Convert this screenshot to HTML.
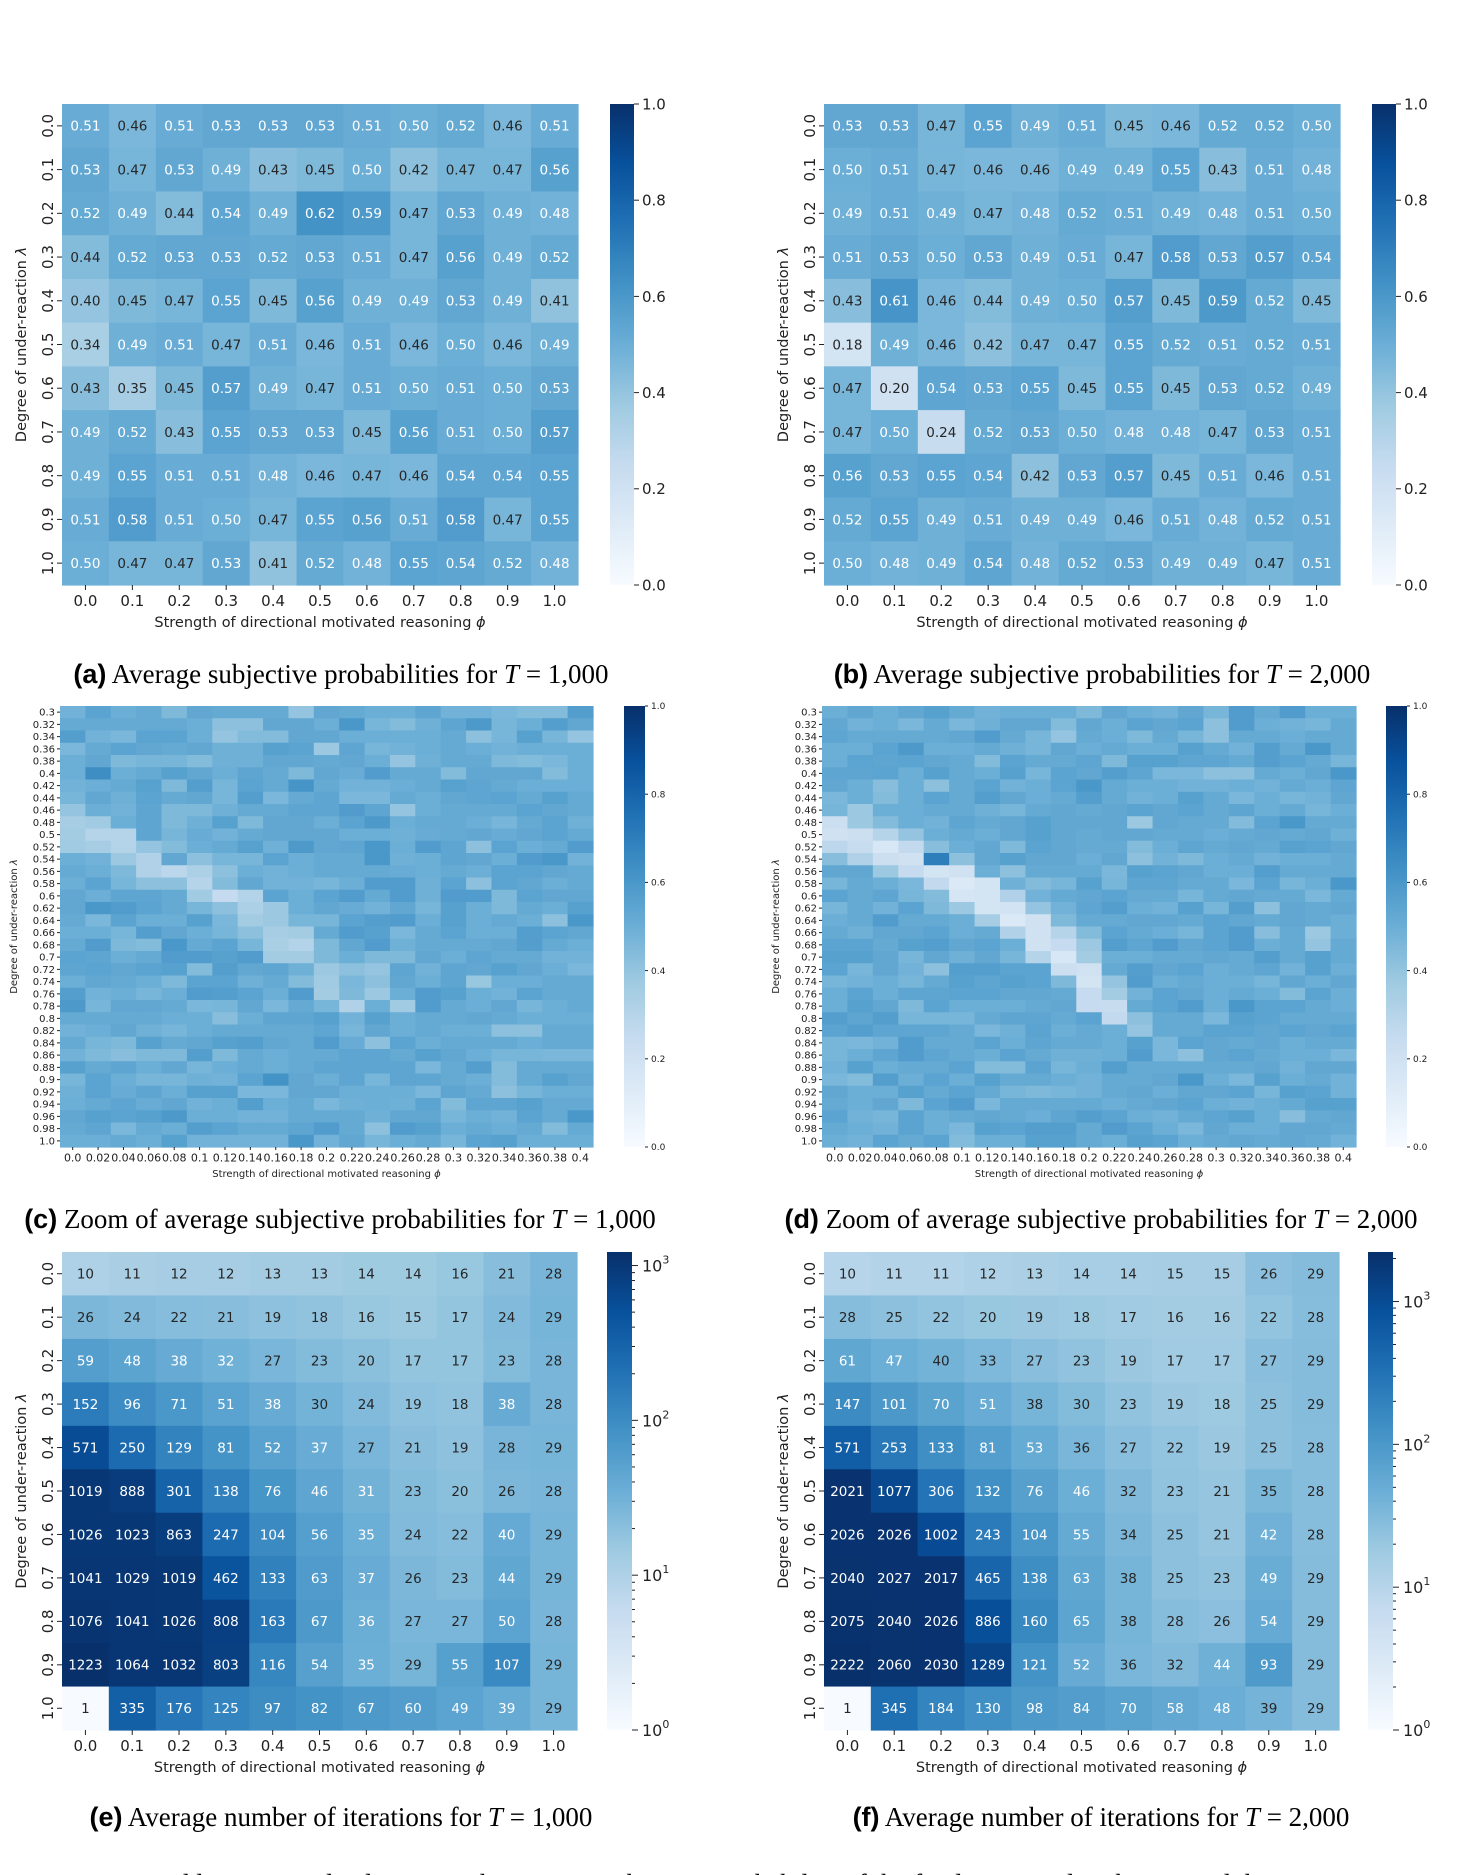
<!DOCTYPE html>
<html><head><meta charset="utf-8">
<style>
html,body{margin:0;padding:0;background:#fff;}
svg{display:block;}
</style></head>
<body>
<svg id="fig" width="1467" height="1875" viewBox="0 0 1467 1875" xmlns="http://www.w3.org/2000/svg" font-family="'DejaVu Sans', 'Liberation Sans', sans-serif">
<defs>
<linearGradient id="bluesGrad" x1="0" y1="1" x2="0" y2="0">
<stop offset="0" stop-color="#f7fbff"/><stop offset="0.125" stop-color="#deebf7"/><stop offset="0.25" stop-color="#c6dbef"/><stop offset="0.375" stop-color="#9ecae1"/><stop offset="0.5" stop-color="#6baed6"/><stop offset="0.625" stop-color="#4292c6"/><stop offset="0.75" stop-color="#2171b5"/><stop offset="0.875" stop-color="#08519c"/><stop offset="1" stop-color="#08306b"/>
</linearGradient>
</defs>
<g id="captions" font-size="27">
<text x="341" y="683" text-anchor="middle"><tspan font-family="'Liberation Sans',sans-serif" font-weight="bold">(a)</tspan><tspan font-family="'Liberation Serif',serif"> Average subjective probabilities for </tspan><tspan font-family="'Liberation Serif',serif" font-style="italic">T</tspan><tspan font-family="'Liberation Serif',serif"> = 1,000</tspan></text>
<text x="1102" y="683" text-anchor="middle"><tspan font-family="'Liberation Sans',sans-serif" font-weight="bold">(b)</tspan><tspan font-family="'Liberation Serif',serif"> Average subjective probabilities for </tspan><tspan font-family="'Liberation Serif',serif" font-style="italic">T</tspan><tspan font-family="'Liberation Serif',serif"> = 2,000</tspan></text>
<text x="340" y="1228" text-anchor="middle"><tspan font-family="'Liberation Sans',sans-serif" font-weight="bold">(c)</tspan><tspan font-family="'Liberation Serif',serif"> Zoom of average subjective probabilities for </tspan><tspan font-family="'Liberation Serif',serif" font-style="italic">T</tspan><tspan font-family="'Liberation Serif',serif"> = 1,000</tspan></text>
<text x="1101" y="1228" text-anchor="middle"><tspan font-family="'Liberation Sans',sans-serif" font-weight="bold">(d)</tspan><tspan font-family="'Liberation Serif',serif"> Zoom of average subjective probabilities for </tspan><tspan font-family="'Liberation Serif',serif" font-style="italic">T</tspan><tspan font-family="'Liberation Serif',serif"> = 2,000</tspan></text>
<text x="341" y="1826" text-anchor="middle"><tspan font-family="'Liberation Sans',sans-serif" font-weight="bold">(e)</tspan><tspan font-family="'Liberation Serif',serif"> Average number of iterations for </tspan><tspan font-family="'Liberation Serif',serif" font-style="italic">T</tspan><tspan font-family="'Liberation Serif',serif"> = 1,000</tspan></text>
<text x="1101" y="1826" text-anchor="middle"><tspan font-family="'Liberation Sans',sans-serif" font-weight="bold">(f)</tspan><tspan font-family="'Liberation Serif',serif"> Average number of iterations for </tspan><tspan font-family="'Liberation Serif',serif" font-style="italic">T</tspan><tspan font-family="'Liberation Serif',serif"> = 2,000</tspan></text>
<text x="84" y="1893" font-family="'Liberation Serif',serif">■ Iterated learning in dyadic pairs. The average subjective probability of the final training distribution and the</text>
</g>
</svg>
<script>
// ---- data ----
const gridRows = ["0.0","0.1","0.2","0.3","0.4","0.5","0.6","0.7","0.8","0.9","1.0"];
const gridCols = ["0.0","0.1","0.2","0.3","0.4","0.5","0.6","0.7","0.8","0.9","1.0"];
const zoomRows = ["0.3","0.32","0.34","0.36","0.38","0.4","0.42","0.44","0.46","0.48","0.5","0.52","0.54","0.56","0.58","0.6","0.62","0.64","0.66","0.68","0.7","0.72","0.74","0.76","0.78","0.8","0.82","0.84","0.86","0.88","0.9","0.92","0.94","0.96","0.98","1.0"];
const zoomCols = ["0.0","0.02","0.04","0.06","0.08","0.1","0.12","0.14","0.16","0.18","0.2","0.22","0.24","0.26","0.28","0.3","0.32","0.34","0.36","0.38","0.4"];
const linearTicks = ["0.0","0.2","0.4","0.6","0.8","1.0"];
const logTickExps = [0,1,2,3];

const probT1000 = [
[.51,.46,.51,.53,.53,.53,.51,.50,.52,.46,.51],
[.53,.47,.53,.49,.43,.45,.50,.42,.47,.47,.56],
[.52,.49,.44,.54,.49,.62,.59,.47,.53,.49,.48],
[.44,.52,.53,.53,.52,.53,.51,.47,.56,.49,.52],
[.40,.45,.47,.55,.45,.56,.49,.49,.53,.49,.41],
[.34,.49,.51,.47,.51,.46,.51,.46,.50,.46,.49],
[.43,.35,.45,.57,.49,.47,.51,.50,.51,.50,.53],
[.49,.52,.43,.55,.53,.53,.45,.56,.51,.50,.57],
[.49,.55,.51,.51,.48,.46,.47,.46,.54,.54,.55],
[.51,.58,.51,.50,.47,.55,.56,.51,.58,.47,.55],
[.50,.47,.47,.53,.41,.52,.48,.55,.54,.52,.48]];
const probT2000 = [
[.53,.53,.47,.55,.49,.51,.45,.46,.52,.52,.50],
[.50,.51,.47,.46,.46,.49,.49,.55,.43,.51,.48],
[.49,.51,.49,.47,.48,.52,.51,.49,.48,.51,.50],
[.51,.53,.50,.53,.49,.51,.47,.58,.53,.57,.54],
[.43,.61,.46,.44,.49,.50,.57,.45,.59,.52,.45],
[.18,.49,.46,.42,.47,.47,.55,.52,.51,.52,.51],
[.47,.20,.54,.53,.55,.45,.55,.45,.53,.52,.49],
[.47,.50,.24,.52,.53,.50,.48,.48,.47,.53,.51],
[.56,.53,.55,.54,.42,.53,.57,.45,.51,.46,.51],
[.52,.55,.49,.51,.49,.49,.46,.51,.48,.52,.51],
[.50,.48,.49,.54,.48,.52,.53,.49,.49,.47,.51]];
const zoomT1000 = [
[.48,.55,.5,.52,.45,.53,.52,.52,.52,.40,.53,.52,.5,.5,.54,.48,.48,.46,.44,.44,.57],
[.52,.52,.52,.52,.52,.5,.42,.42,.53,.53,.5,.6,.47,.44,.49,.54,.59,.47,.5,.57,.53],
[.57,.48,.46,.55,.55,.5,.40,.44,.44,.53,.53,.5,.5,.5,.5,.52,.42,.47,.56,.47,.40],
[.46,.52,.55,.53,.52,.53,.49,.49,.56,.55,.38,.54,.47,.48,.5,.52,.5,.48,.5,.5,.5],
[.5,.53,.45,.47,.47,.44,.49,.49,.53,.53,.52,.53,.5,.40,.49,.52,.52,.45,.44,.46,.5],
[.5,.64,.5,.52,.56,.53,.5,.54,.52,.45,.53,.51,.58,.52,.52,.44,.53,.53,.53,.44,.5],
[.48,.5,.52,.56,.45,.57,.47,.55,.52,.61,.52,.48,.48,.5,.52,.56,.54,.52,.5,.5,.5],
[.47,.53,.49,.55,.52,.53,.47,.57,.46,.52,.54,.46,.46,.52,.5,.53,.54,.55,.52,.56,.52],
[.40,.5,.48,.54,.45,.45,.49,.52,.52,.54,.54,.58,.54,.40,.5,.52,.52,.52,.55,.53,.52],
[.35,.37,.5,.54,.45,.49,.56,.45,.53,.53,.5,.55,.59,.5,.52,.52,.5,.47,.52,.55,.49],
[.36,.30,.30,.54,.47,.51,.48,.52,.53,.53,.53,.5,.5,.49,.51,.52,.53,.51,.53,.55,.52],
[.37,.35,.31,.40,.44,.5,.52,.56,.49,.59,.53,.54,.6,.5,.58,.54,.42,.55,.5,.52,.58],
[.5,.48,.38,.32,.53,.42,.47,.47,.55,.5,.52,.52,.6,.49,.5,.54,.53,.5,.58,.6,.48],
[.52,.5,.45,.32,.28,.33,.42,.5,.48,.5,.52,.52,.52,.51,.5,.52,.5,.55,.55,.53,.52],
[.5,.55,.47,.42,.42,.30,.44,.53,.48,.48,.47,.5,.58,.58,.49,.55,.42,.55,.53,.5,.52],
[.53,.5,.54,.54,.52,.37,.25,.31,.55,.5,.55,.58,.52,.58,.49,.58,.58,.45,.55,.53,.53],
[.53,.6,.58,.55,.52,.47,.42,.33,.38,.5,.53,.51,.48,.53,.47,.56,.5,.45,.52,.5,.56],
[.52,.46,.55,.5,.5,.56,.46,.36,.38,.47,.47,.55,.57,.58,.5,.56,.5,.52,.5,.42,.6],
[.5,.5,.47,.57,.53,.5,.47,.42,.35,.36,.52,.58,.56,.46,.52,.55,.5,.5,.57,.55,.53],
[.52,.58,.45,.44,.6,.52,.55,.47,.34,.31,.45,.53,.58,.49,.52,.52,.52,.53,.57,.52,.5],
[.55,.54,.5,.52,.58,.58,.56,.58,.36,.36,.45,.5,.45,.45,.53,.5,.54,.52,.52,.48,.48],
[.54,.55,.53,.55,.56,.44,.57,.53,.54,.49,.38,.42,.4,.54,.48,.54,.53,.56,.53,.5,.46],
[.5,.53,.52,.5,.45,.55,.55,.49,.52,.44,.37,.46,.42,.53,.5,.54,.39,.5,.5,.52,.52],
[.57,.48,.5,.47,.5,.58,.57,.55,.5,.58,.36,.45,.38,.5,.58,.56,.5,.48,.55,.52,.52],
[.59,.47,.53,.53,.52,.46,.47,.53,.46,.52,.47,.32,.5,.37,.58,.52,.5,.53,.47,.5,.52],
[.52,.52,.52,.52,.5,.5,.43,.5,.54,.54,.56,.48,.56,.5,.52,.52,.53,.52,.5,.5,.5],
[.48,.5,.53,.49,.47,.5,.52,.52,.52,.52,.54,.47,.53,.5,.52,.5,.5,.42,.42,.52,.52],
[.52,.47,.45,.56,.52,.53,.56,.57,.53,.52,.58,.51,.42,.55,.5,.52,.52,.52,.5,.52,.52],
[.48,.45,.43,.45,.45,.57,.45,.52,.5,.52,.52,.54,.54,.52,.56,.53,.5,.47,.47,.46,.46],
[.56,.52,.54,.5,.53,.47,.5,.52,.5,.52,.54,.54,.54,.54,.46,.52,.57,.44,.52,.52,.52],
[.47,.55,.5,.47,.47,.49,.48,.55,.62,.53,.5,.54,.47,.54,.54,.52,.5,.44,.52,.56,.53],
[.49,.55,.51,.54,.5,.56,.56,.46,.46,.53,.53,.5,.5,.5,.46,.54,.52,.42,.47,.5,.5],
[.5,.52,.54,.51,.53,.48,.5,.57,.5,.52,.46,.49,.5,.49,.55,.44,.54,.54,.56,.52,.52],
[.53,.56,.55,.56,.59,.5,.5,.48,.48,.52,.52,.52,.49,.53,.53,.47,.5,.48,.55,.52,.6],
[.52,.54,.46,.52,.5,.57,.55,.52,.52,.54,.58,.52,.42,.58,.56,.5,.52,.5,.52,.44,.52],
[.5,.5,.52,.5,.56,.48,.48,.48,.48,.6,.48,.53,.47,.5,.52,.47,.55,.56,.5,.5,.5]];
const zoomT2000 = [
[.5,.53,.5,.53,.56,.52,.48,.5,.5,.5,.45,.53,.5,.48,.53,.47,.58,.52,.58,.5,.5],
[.53,.48,.5,.46,.52,.46,.49,.53,.53,.44,.53,.5,.55,.53,.55,.42,.58,.5,.48,.47,.52],
[.54,.52,.52,.52,.52,.53,.58,.52,.47,.40,.52,.5,.45,.52,.47,.42,.52,.52,.5,.52,.52],
[.5,.5,.55,.59,.5,.5,.52,.49,.47,.53,.5,.52,.5,.5,.56,.52,.48,.57,.52,.6,.52],
[.5,.55,.54,.55,.53,.52,.44,.55,.52,.52,.54,.45,.56,.56,.54,.54,.52,.57,.55,.52,.47],
[.54,.54,.55,.5,.56,.52,.5,.56,.47,.55,.53,.57,.54,.46,.46,.42,.42,.52,.5,.53,.6],
[.53,.5,.43,.5,.42,.52,.55,.48,.5,.55,.6,.52,.5,.5,.48,.48,.5,.48,.52,.5,.54],
[.46,.5,.44,.5,.55,.52,.57,.53,.5,.52,.57,.52,.48,.5,.56,.52,.46,.5,.47,.48,.53],
[.47,.38,.5,.5,.52,.52,.49,.47,.52,.53,.52,.53,.55,.53,.55,.52,.54,.5,.52,.47,.5],
[.22,.38,.44,.5,.48,.54,.52,.53,.56,.53,.53,.53,.38,.53,.52,.52,.44,.55,.6,.52,.52],
[.20,.22,.3,.4,.5,.52,.5,.53,.56,.53,.52,.53,.53,.52,.52,.5,.52,.53,.52,.53,.49],
[.28,.24,.16,.26,.43,.5,.53,.45,.55,.53,.52,.52,.44,.5,.54,.52,.53,.52,.56,.55,.53],
[.43,.32,.22,.2,.7,.42,.53,.56,.53,.53,.5,.53,.42,.48,.45,.5,.52,.48,.5,.5,.52],
[.53,.53,.38,.25,.18,.2,.5,.42,.52,.52,.52,.46,.56,.55,.53,.5,.5,.57,.52,.52,.52],
[.47,.52,.5,.46,.26,.14,.18,.49,.44,.47,.56,.47,.54,.54,.52,.52,.46,.55,.47,.5,.6],
[.55,.52,.54,.47,.44,.17,.18,.32,.48,.52,.53,.55,.52,.52,.47,.52,.53,.52,.52,.46,.52],
[.47,.52,.48,.55,.45,.38,.18,.19,.4,.48,.54,.57,.5,.48,.56,.47,.57,.42,.53,.52,.53],
[.5,.52,.58,.52,.52,.5,.35,.14,.2,.45,.52,.52,.53,.53,.52,.55,.53,.52,.53,.52,.5],
[.52,.49,.53,.53,.55,.5,.52,.32,.2,.3,.44,.55,.52,.5,.47,.55,.58,.43,.52,.38,.5],
[.55,.55,.52,.56,.57,.53,.55,.5,.2,.25,.38,.57,.54,.58,.53,.55,.58,.5,.52,.4,.52],
[.56,.56,.53,.47,.53,.49,.53,.47,.3,.16,.36,.5,.5,.52,.52,.53,.52,.57,.52,.56,.52],
[.55,.47,.53,.48,.42,.57,.57,.55,.55,.22,.2,.52,.57,.53,.55,.5,.52,.54,.48,.56,.5],
[.47,.48,.5,.47,.52,.56,.54,.56,.55,.45,.18,.40,.58,.5,.52,.5,.5,.47,.53,.5,.53],
[.5,.55,.5,.54,.54,.55,.55,.53,.53,.52,.25,.36,.48,.55,.53,.5,.52,.5,.44,.55,.5],
[.5,.56,.53,.45,.55,.5,.5,.5,.52,.53,.25,.24,.52,.55,.58,.5,.6,.55,.55,.52,.5],
[.57,.54,.57,.47,.47,.47,.52,.54,.54,.52,.55,.26,.42,.52,.52,.46,.56,.55,.52,.52,.52],
[.55,.57,.54,.54,.54,.52,.46,.49,.55,.5,.52,.5,.4,.52,.52,.55,.55,.53,.55,.53,.55],
[.47,.46,.48,.58,.52,.52,.55,.5,.54,.52,.52,.5,.56,.46,.55,.53,.52,.53,.5,.52,.52],
[.47,.5,.54,.58,.54,.52,.5,.55,.52,.49,.49,.5,.58,.46,.42,.53,.55,.52,.5,.5,.46],
[.48,.56,.5,.52,.52,.55,.44,.44,.55,.47,.5,.57,.52,.52,.52,.52,.52,.53,.48,.53,.53],
[.46,.44,.57,.5,.55,.5,.56,.52,.52,.5,.48,.52,.52,.53,.6,.5,.46,.56,.5,.52,.48],
[.53,.5,.5,.56,.52,.55,.52,.47,.45,.47,.48,.52,.53,.5,.53,.53,.55,.47,.56,.55,.48],
[.52,.5,.53,.45,.55,.58,.46,.52,.52,.52,.52,.5,.52,.53,.55,.5,.48,.5,.52,.56,.56],
[.55,.48,.47,.55,.5,.52,.53,.52,.5,.54,.57,.55,.5,.48,.52,.54,.56,.5,.43,.52,.53],
[.52,.5,.48,.55,.5,.46,.56,.55,.57,.57,.52,.58,.55,.5,.46,.53,.5,.5,.53,.53,.52],
[.5,.48,.55,.52,.55,.44,.5,.5,.56,.56,.52,.5,.56,.55,.5,.52,.53,.52,.53,.52,.48]];
const iterT1000 = [
[10,11,12,12,13,13,14,14,16,21,28],
[26,24,22,21,19,18,16,15,17,24,29],
[59,48,38,32,27,23,20,17,17,23,28],
[152,96,71,51,38,30,24,19,18,38,28],
[571,250,129,81,52,37,27,21,19,28,29],
[1019,888,301,138,76,46,31,23,20,26,28],
[1026,1023,863,247,104,56,35,24,22,40,29],
[1041,1029,1019,462,133,63,37,26,23,44,29],
[1076,1041,1026,808,163,67,36,27,27,50,28],
[1223,1064,1032,803,116,54,35,29,55,107,29],
[1,335,176,125,97,82,67,60,49,39,29]];
const iterT2000 = [
[10,11,11,12,13,14,14,15,15,26,29],
[28,25,22,20,19,18,17,16,16,22,28],
[61,47,40,33,27,23,19,17,17,27,29],
[147,101,70,51,38,30,23,19,18,25,29],
[571,253,133,81,53,36,27,22,19,25,28],
[2021,1077,306,132,76,46,32,23,21,35,28],
[2026,2026,1002,243,104,55,34,25,21,42,28],
[2040,2027,2017,465,138,63,38,25,23,49,29],
[2075,2040,2026,886,160,65,38,28,26,54,29],
[2222,2060,2030,1289,121,52,36,32,44,93,29],
[1,345,184,130,98,84,70,58,48,39,29]];

// ---- helpers ----
const NS = "http://www.w3.org/2000/svg";
const svg = document.getElementById('fig');
const BLUES = [[247,251,255],[222,235,247],[198,219,239],[158,202,225],[107,174,214],[66,146,198],[33,113,181],[8,81,156],[8,48,107]];
function blues(t){
  t = Math.max(0, Math.min(1, t));
  const s = t*8, i = Math.min(7, Math.floor(s)), f = s - i;
  return BLUES[i].map((c,k)=>Math.round(c + (BLUES[i+1][k]-c)*f));
}
function lum(rgb){
  const l = rgb.map(v=>{v/=255; return v<=0.03928? v/12.92 : Math.pow((v+0.055)/1.055,2.4);});
  return 0.2126*l[0]+0.7152*l[1]+0.0722*l[2];
}
function el(tag, attrs, parent){
  const e = document.createElementNS(NS, tag);
  for (const k in attrs) e.setAttribute(k, attrs[k]);
  (parent||svg).appendChild(e);
  return e;
}
function linNorm(v){ return v; }
function makeLogNorm(vmax){ return v => Math.log10(Math.max(v,1))/Math.log10(vmax); }

function heatmap(o){
  const g = el('g', {});
  
  
  const nr = o.rows.length, nc = o.cols.length;
  const cw = o.w/nc, ch = o.h/nr;
  const xScale = j => o.x + j*cw;
  const yScale = i => o.y + i*ch;
  o.values.forEach((row,i)=>row.forEach((v,j)=>{
    const rgb = blues(o.norm(v));
    const r = el('rect', {x:xScale(j).toFixed(2), y:yScale(i).toFixed(2), width:(cw+0.6).toFixed(2), height:(ch+0.6).toFixed(2), fill:`rgb(${rgb})`}, g);
    
    
    if (o.annot){
      const t = el('text', {x:(xScale(j)+cw/2).toFixed(2), y:(yScale(i)+ch/2+o.annotSize*0.36).toFixed(2), 'text-anchor':'middle', 'font-size':o.annotSize, fill: lum(rgb) > 0.408 ? '#262626' : '#ffffff'}, g);
      
      
      t.textContent = o.annot(v);
    }
  }));
  o.cols.forEach((c,j)=>{
    const cx = xScale(j)+cw/2;
    el('line', {x1:cx, x2:cx, y1:o.y+o.h, y2:o.y+o.h+o.tickLen, stroke:'#222', 'stroke-width':1}, g);
    const t = el('text', {x:cx, y:o.y+o.h+o.tickLen+o.tickSize*1.05, 'text-anchor':'middle', 'font-size':o.tickSize, fill:'#222'}, g);
    
    
    t.textContent = c;
  });
  o.rows.forEach((r,i)=>{
    const cy = yScale(i)+ch/2;
    el('line', {x1:o.x-o.tickLen, x2:o.x, y1:cy, y2:cy, stroke:'#222', 'stroke-width':1}, g);
    let t;
    if (o.rotY){
      const tx = o.x-o.tickLen-4-o.tickSize*0.36;
      t = el('text', {x:tx, y:cy, 'text-anchor':'middle', 'font-size':o.tickSize, fill:'#222', transform:`rotate(-90 ${tx} ${cy})`, dy:'0.36em'}, g);
    } else {
      t = el('text', {x:o.x-o.tickLen-2, y:cy+o.yTickSize*0.36, 'text-anchor':'end', 'font-size':o.yTickSize, fill:'#222'}, g);
    }
    
    
    t.textContent = r;
  });
  const xl = el('text', {x:o.x+o.w/2, y:o.xlabelY, 'text-anchor':'middle', 'font-size':o.labelSize, fill:'#222'}, g);
  
  
  xl.innerHTML = 'Strength of directional motivated reasoning <tspan font-style="italic">ϕ</tspan>';
  const yc = o.y+o.h/2;
  const yl = el('text', {x:o.ylabelX, y:yc, 'text-anchor':'middle', 'font-size':o.labelSize, fill:'#222', transform:`rotate(-90 ${o.ylabelX} ${yc})`}, g);
  
  
  yl.innerHTML = 'Degree of under-reaction <tspan font-style="italic">λ</tspan>';
}

function colorbarLinear(o){
  const g = el('g', {});
  
  
  el('rect', {x:o.x, y:o.y, width:o.w, height:o.h, fill:'url(#bluesGrad)'}, g);
  linearTicks.forEach(lbl=>{
    const v = parseFloat(lbl);
    const yy = o.y + o.h*(1-v);
    el('line', {x1:o.x+o.w, x2:o.x+o.w+o.tickLen, y1:yy, y2:yy, stroke:'#222'}, g);
    const t = el('text', {x:o.x+o.w+o.tickLen+3, y:yy+o.size*0.36, 'font-size':o.size, fill:'#222'}, g);
    
    
    t.textContent = lbl;
  });
}
function colorbarLog(o){
  const g = el('g', {});
  
  
  el('rect', {x:o.x, y:o.y, width:o.w, height:o.h, fill:'url(#bluesGrad)'}, g);
  const lm = Math.log10(o.vmax);
  const yOf = v => o.y + o.h*(1 - Math.log10(v)/lm);
  for (let d=0; d<4; d++) for (let m=2; m<=9; m++){
    const v = m*Math.pow(10,d);
    if (v > o.vmax) continue;
    const yy = yOf(v);
    el('line', {x1:o.x+o.w, x2:o.x+o.w+3, y1:yy, y2:yy, stroke:'#222'}, g);
  }
  logTickExps.forEach(e=>{
    const yy = yOf(Math.pow(10,e));
    el('line', {x1:o.x+o.w, x2:o.x+o.w+6, y1:yy, y2:yy, stroke:'#222'}, g);
    const t = el('text', {x:o.x+o.w+10, y:yy+6, 'font-size':16, fill:'#222'}, g);
    
    
    t.innerHTML = `10<tspan font-size="11" dy="-8">${e}</tspan>`;
  });
}

const fmt2 = v => v.toFixed(2);
const fmtInt = v => String(v);

heatmap({name:'heatmap-a', x:62, y:104, w:516, h:481, rows:gridRows, cols:gridCols, values:probT1000, norm:linNorm, annot:fmt2, annotSize:13.5, tickSize:15, tickLen:5, rotY:true, labelSize:14.5, xlabelY:627, ylabelX:26});
colorbarLinear({name:'colorbar-a', x:610, y:104, w:24, h:481, tickLen:5, size:15});
heatmap({name:'heatmap-b', x:824, y:104, w:516, h:481, rows:gridRows, cols:gridCols, values:probT2000, norm:linNorm, annot:fmt2, annotSize:13.5, tickSize:15, tickLen:5, rotY:true, labelSize:14.5, xlabelY:627, ylabelX:788});
colorbarLinear({name:'colorbar-b', x:1372, y:104, w:24, h:481, tickLen:5, size:15});

heatmap({name:'heatmap-c', x:60, y:706, w:533, h:441, rows:zoomRows, cols:zoomCols, values:zoomT1000, norm:linNorm, annot:null, tickSize:11, yTickSize:10, tickLen:3, rotY:false, labelSize:10, xlabelY:1177, ylabelX:17});
colorbarLinear({name:'colorbar-c', x:624, y:706, w:21, h:441, tickLen:3, size:9});
heatmap({name:'heatmap-d', x:822, y:706, w:534, h:441, rows:zoomRows, cols:zoomCols, values:zoomT2000, norm:linNorm, annot:null, tickSize:11, yTickSize:10, tickLen:3, rotY:false, labelSize:10, xlabelY:1177, ylabelX:779});
colorbarLinear({name:'colorbar-d', x:1386, y:706, w:21, h:441, tickLen:3, size:9});

const vmaxE = Math.max(...iterT1000.flat());
const vmaxF = Math.max(...iterT2000.flat());
heatmap({name:'heatmap-e', x:62, y:1252, w:515, h:478, rows:gridRows, cols:gridCols, values:iterT1000, norm:makeLogNorm(vmaxE), annot:fmtInt, annotSize:13.5, tickSize:15, tickLen:5, rotY:true, labelSize:14.5, xlabelY:1772, ylabelX:26});
colorbarLog({name:'colorbar-e', x:607, y:1252, w:25, h:478, vmax:vmaxE});
heatmap({name:'heatmap-f', x:824, y:1252, w:515, h:478, rows:gridRows, cols:gridCols, values:iterT2000, norm:makeLogNorm(vmaxF), annot:fmtInt, annotSize:13.5, tickSize:15, tickLen:5, rotY:true, labelSize:14.5, xlabelY:1772, ylabelX:788});
colorbarLog({name:'colorbar-f', x:1368, y:1252, w:25, h:478, vmax:vmaxF});
</script>
</body></html>
